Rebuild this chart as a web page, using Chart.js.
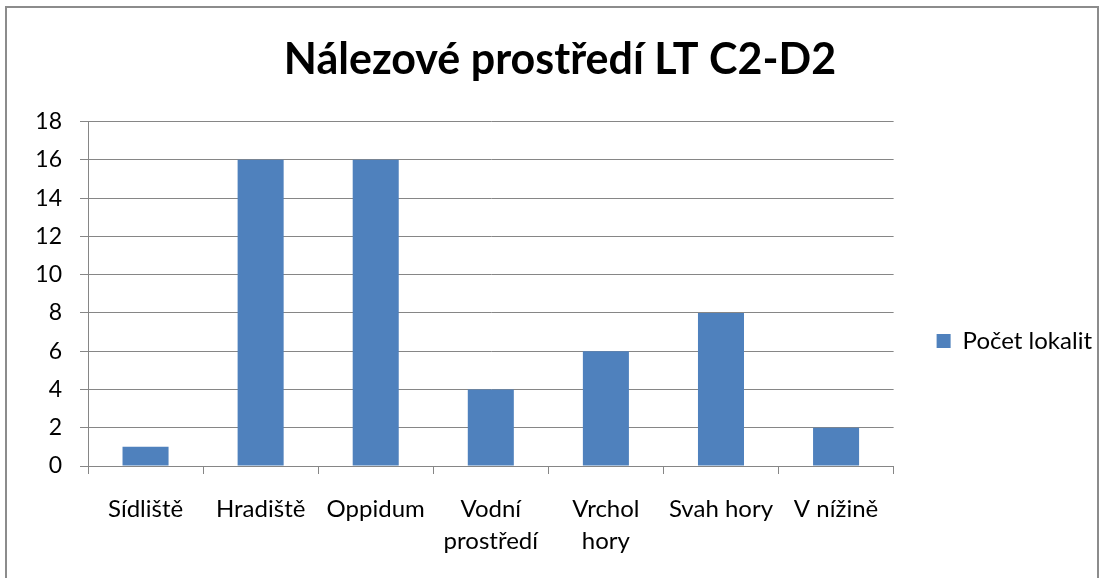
<!DOCTYPE html>
<html lang="cs">
<head>
<meta charset="utf-8">
<title>Nálezové prostředí LT C2-D2</title>
<script src="https://cdn.jsdelivr.net/npm/chart.js@4"></script>
<style>
  html, body { margin: 0; padding: 0; background: #fff; overflow: hidden; }
  #wrap { position: relative; width: 1105px; height: 578px; }
  #frame {
    position: absolute; left: 5px; top: 6px; width: 1090px; height: 640px;
    border: 2px solid #8c8c8c; pointer-events: none;
  }
  canvas { position: absolute; left: 0; top: 0; }
</style>
</head>
<body>
<div id="wrap">
  <canvas id="chart" width="1105" height="578"></canvas>
  <div id="frame"></div>
</div>
<script>
// ===== data =====
const categories = ['Sídliště', 'Hradiště', 'Oppidum', ['Vodní', 'prostředí'], ['Vrchol', 'hory'], 'Svah hory', 'V nížině'];
const seriesName = 'Počet lokalit';
const seriesValues = [1, 16, 16, 4, 6, 8, 2];
const yTicks = [0, 2, 4, 6, 8, 10, 12, 14, 16, 18];
const chartTitle = 'Nálezové prostředí LT C2-D2';

// ===== style =====
const BAR = '#4f81bd';
const GRID = '#868686';
const FONT = 'Lato, "Noto Sans", sans-serif';

// push the legend down a little, like the excel one
const legendShift = {
  id: 'legendShift',
  afterLayout(chart) {
    const lg = chart.legend;
    if (!lg) return;
    lg.top += 52;
    lg.bottom += 52;
  }
};

new Chart(document.getElementById('chart'), {
  type: 'bar',
  data: {
    labels: categories,
    datasets: [{
      label: seriesName,
      data: seriesValues,
      backgroundColor: BAR,
      borderWidth: 0,
      categoryPercentage: 1,
      barPercentage: 0.4
    }]
  },
  options: {
    responsive: false,
    animation: false,
    layout: { padding: { left: 18, right: 3, top: 0, bottom: 0 } },
    plugins: {
      title: {
        display: true,
        text: chartTitle,
        color: '#000',
        font: { family: FONT, size: 43, weight: 'bold', lineHeight: 1.2 },
        padding: { top: 34, bottom: 36 }
      },
      legend: {
        position: 'right',
        align: 'center',
        labels: {
          color: '#000',
          font: { family: FONT, size: 24 },
          boxWidth: 14,
          boxHeight: 14,
          padding: 43
        }
      },
      tooltip: { enabled: false }
    },
    scales: {
      x: {
        offset: true,
        afterFit: s => { s.height = 112; },
        grid: {
          offset: true,
          drawOnChartArea: false,
          drawTicks: true,
          tickLength: 8,
          color: GRID,
          lineWidth: 1
        },
        border: { display: true, color: GRID, width: 1 },
        ticks: {
          color: '#000',
          padding: 20,
          maxRotation: 0,
          autoSkip: false,
          font: { family: FONT, size: 24, lineHeight: 1.3 }
        }
      },
      y: {
        min: 0,
        max: 18,
        afterFit: s => { s.width = 70; },
        afterBuildTicks: s => { s.ticks = yTicks.map(v => ({ value: v })); },
        grid: {
          drawTicks: true,
          tickLength: 8,
          color: GRID,
          lineWidth: 1
        },
        border: { display: true, color: GRID, width: 1 },
        ticks: {
          color: '#000',
          padding: 18,
          font: { family: FONT, size: 23 }
        }
      }
    }
  },
  plugins: [legendShift]
});
</script>
</body>
</html>
